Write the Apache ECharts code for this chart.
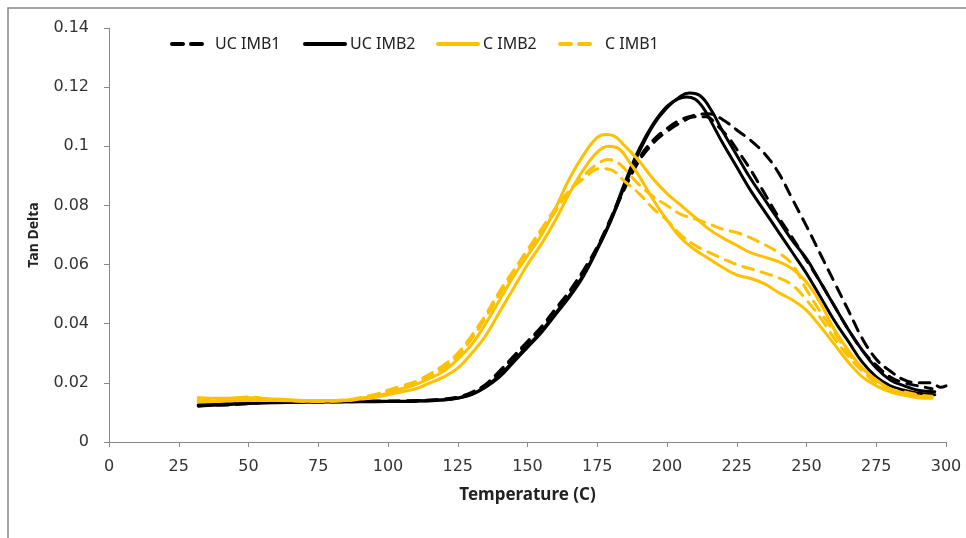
<!DOCTYPE html>
<html lang="en">
<head>
  <meta charset="UTF-8">
  <title>Tan Delta</title>
  <style>
    html, body { margin: 0; padding: 0; background: #fff; }
    #main { width: 966px; height: 538px; }
  </style>
</head>
<body>
<div id="main"></div>
<script src="https://cdn.jsdelivr.net/npm/echarts@6/dist/echarts.min.js"></script>
<script>
  // [temperature, tan delta]
  const ucImb1A = [[32,0.0125],[40,0.0125],[50,0.013],[60,0.0135],[75,0.0135],[90,0.0137],[100,0.0138],[110,0.014],[120,0.0145],[125,0.0152],[130,0.0168],[135,0.0195],[140,0.024],[145,0.029],[150,0.034],[155,0.039],[160,0.045],[165,0.051],[170,0.058],[175,0.066],[180,0.076],[185,0.087],[190,0.096],[195,0.102],[200,0.106],[205,0.109],[210,0.1105],[215,0.111],[220,0.109],[225,0.1055],[230,0.102],[235,0.0975],[240,0.091],[245,0.082],[250,0.073],[255,0.0635],[260,0.054],[265,0.0445],[270,0.035],[275,0.028],[280,0.024],[285,0.021],[290,0.020],[295,0.020],[298,0.0185],[300,0.019]];
  const ucImb1B = [[32,0.0122],[40,0.0128],[50,0.0132],[60,0.0134],[75,0.0136],[90,0.0138],[100,0.0138],[110,0.0139],[120,0.0144],[125,0.015],[130,0.0165],[135,0.019],[140,0.0235],[145,0.0285],[150,0.0335],[155,0.0385],[160,0.0445],[165,0.0505],[170,0.0575],[175,0.0655],[180,0.0755],[185,0.086],[190,0.095],[195,0.101],[200,0.105],[205,0.108],[210,0.110],[214,0.110],[218,0.107],[222,0.103],[225,0.099],[230,0.092],[235,0.084],[240,0.076],[245,0.069],[250,0.0615],[255,0.054],[260,0.046],[265,0.038],[270,0.031],[275,0.026],[280,0.022],[285,0.020],[290,0.019],[295,0.018]];
  const ucImb2A = [[32,0.0122],[40,0.0125],[50,0.013],[60,0.0133],[75,0.0135],[90,0.0136],[100,0.0137],[110,0.0138],[120,0.0142],[125,0.0148],[130,0.016],[135,0.0185],[140,0.022],[145,0.027],[150,0.032],[155,0.037],[160,0.043],[165,0.049],[170,0.056],[175,0.065],[180,0.075],[185,0.087],[190,0.098],[195,0.107],[200,0.113],[205,0.117],[208,0.118],[212,0.117],[216,0.112],[220,0.105],[225,0.097],[230,0.089],[235,0.082],[240,0.075],[245,0.068],[250,0.062],[255,0.054],[260,0.046],[265,0.038],[270,0.031],[275,0.025],[280,0.021],[285,0.019],[290,0.0175],[296,0.017]];
  const ucImb2B = [[32,0.0125],[40,0.0128],[50,0.0132],[60,0.0134],[75,0.0136],[90,0.0137],[100,0.0138],[110,0.0139],[120,0.0143],[125,0.0149],[130,0.0162],[135,0.0188],[140,0.0225],[145,0.0275],[150,0.0325],[155,0.0375],[160,0.0435],[165,0.0495],[170,0.0565],[175,0.0655],[180,0.0755],[185,0.088],[190,0.099],[195,0.1075],[200,0.1135],[204,0.116],[207,0.1167],[210,0.116],[213,0.113],[216,0.108],[220,0.101],[225,0.093],[230,0.085],[235,0.078],[240,0.071],[245,0.064],[250,0.057],[255,0.049],[260,0.041],[265,0.034],[270,0.027],[275,0.022],[280,0.019],[285,0.0175],[290,0.0165],[296,0.016]];
  const cImb2A = [[32,0.015],[40,0.0148],[50,0.015],[60,0.0145],[75,0.014],[85,0.0142],[90,0.0148],[95,0.0155],[100,0.0165],[105,0.018],[110,0.0195],[115,0.0215],[120,0.024],[125,0.028],[130,0.033],[135,0.040],[140,0.048],[145,0.056],[150,0.063],[155,0.070],[160,0.079],[165,0.089],[170,0.097],[175,0.103],[178,0.104],[181,0.1035],[185,0.100],[190,0.095],[195,0.089],[200,0.084],[205,0.080],[210,0.076],[215,0.072],[220,0.069],[225,0.0665],[230,0.064],[235,0.0625],[240,0.061],[245,0.0585],[250,0.054],[255,0.047],[260,0.038],[265,0.031],[270,0.025],[275,0.021],[280,0.018],[285,0.0165],[290,0.0155],[295,0.015]];
  const cImb2B = [[32,0.0135],[40,0.0138],[50,0.014],[60,0.014],[75,0.0138],[85,0.014],[90,0.0145],[95,0.015],[100,0.016],[105,0.017],[110,0.018],[115,0.020],[120,0.022],[125,0.025],[130,0.030],[135,0.036],[140,0.044],[145,0.052],[150,0.060],[155,0.067],[160,0.075],[165,0.084],[170,0.092],[175,0.098],[179,0.100],[183,0.099],[187,0.094],[190,0.090],[195,0.082],[200,0.075],[205,0.069],[210,0.065],[215,0.062],[220,0.059],[225,0.0565],[230,0.0553],[235,0.0535],[240,0.0505],[245,0.048],[250,0.0445],[255,0.039],[260,0.033],[265,0.027],[270,0.022],[275,0.019],[280,0.017],[285,0.0158],[290,0.015],[295,0.0148]];
  const cImb1A = [[32,0.0148],[40,0.0145],[50,0.0152],[60,0.0142],[75,0.0138],[85,0.0142],[90,0.015],[95,0.016],[100,0.0172],[105,0.0185],[110,0.020],[115,0.022],[120,0.025],[125,0.029],[130,0.035],[135,0.042],[140,0.050],[145,0.057],[150,0.064],[155,0.071],[160,0.078],[165,0.085],[170,0.090],[175,0.094],[179,0.0955],[183,0.094],[187,0.090],[190,0.087],[195,0.083],[200,0.080],[205,0.077],[210,0.0755],[216,0.0734],[220,0.072],[226,0.0705],[233,0.0677],[240,0.064],[245,0.060],[250,0.0515],[255,0.044],[260,0.037],[265,0.030],[270,0.025],[275,0.021],[280,0.018],[285,0.017],[290,0.016],[295,0.0155]];
  const cImb1B = [[32,0.014],[40,0.0142],[50,0.0145],[60,0.0143],[75,0.0137],[85,0.014],[90,0.0147],[95,0.0157],[100,0.0175],[105,0.019],[110,0.0205],[115,0.023],[120,0.026],[125,0.030],[130,0.036],[135,0.043],[140,0.051],[145,0.058],[150,0.065],[155,0.072],[160,0.079],[165,0.085],[170,0.089],[176,0.0925],[180,0.092],[185,0.088],[190,0.084],[195,0.079],[200,0.075],[205,0.070],[210,0.0665],[213,0.065],[220,0.062],[225,0.060],[232,0.058],[240,0.0555],[245,0.053],[250,0.048],[255,0.042],[260,0.035],[265,0.029],[270,0.024],[275,0.020],[280,0.018],[285,0.016],[290,0.0155],[295,0.015]];

  const legendNames = ['UC IMB1', 'UC IMB2', 'C IMB2', 'C IMB1'];
  const legendLeft = [170, 303, 436, 558];
  const legendIconW = [32, 40, 40, 32];
  const legendTextPad = [6, 0, 0, 8];

  const black = '#000000';
  const gold = '#FFC000';
  const font = 'DejaVu Sans';
  const legendFont = 'Noto Sans';

  function curve(name, data, color, dashed) {
    return {
      type: 'line',
      name: name,
      data: data,
      smooth: 0.4,
      symbol: 'none',
      lineStyle: { color: color, width: 3, type: dashed ? [11, 8] : 'solid', cap: 'round' },
      itemStyle: { color: color },
      emphasis: { disabled: true }
    };
  }

  let chart = echarts.init(document.getElementById('main'));
  let option = {
    animation: false,
    textStyle: { fontFamily: font },
    graphic: [{
      type: 'rect',
      shape: { x: 8, y: 8, width: 1200, height: 800 },
      style: { fill: 'none', stroke: '#868686', lineWidth: 1.5 },
      silent: true
    }],
    legend: legendNames.map((n, i) => ({
      data: [n],
      left: legendLeft[i],
      top: 36,
      padding: 0,
      itemWidth: legendIconW[i],
      itemHeight: 14,
      itemStyle: { opacity: 0 },
      lineStyle: { width: 4 },
      textStyle: { fontFamily: legendFont, fontSize: 16, color: '#222', padding: [0, 0, 0, legendTextPad[i]] }
    })),
    grid: { left: 109, right: 20, top: 28, bottom: 96 },
    xAxis: {
      type: 'value',
      min: 0, max: 300, interval: 25,
      name: 'Temperature (C)',
      nameLocation: 'middle',
      nameGap: 45,
      nameTextStyle: { fontFamily: legendFont, fontSize: 17, fontWeight: 'bold', color: '#222' },
      axisLine: { lineStyle: { color: '#888', width: 1 } },
      axisTick: { show: true, length: 5, lineStyle: { color: '#888' } },
      axisLabel: { fontFamily: font, fontSize: 16, color: '#333', margin: 17 },
      splitLine: { show: false }
    },
    yAxis: {
      type: 'value',
      min: 0, max: 0.14, interval: 0.02,
      name: 'Tan Delta',
      nameLocation: 'middle',
      nameGap: 68,
      nameTextStyle: { fontFamily: legendFont, fontSize: 14, fontWeight: 'bold', color: '#222' },
      axisLine: { show: true, lineStyle: { color: '#888', width: 1 } },
      axisTick: { show: true, length: 5, lineStyle: { color: '#888' } },
      axisLabel: { fontFamily: font, fontSize: 16, color: '#333', margin: 20 },
      splitLine: { show: false }
    },
    series: [
      curve('UC IMB1', ucImb1A, black, true),
      curve('UC IMB1', ucImb1B, black, true),
      curve('UC IMB2', ucImb2A, black, false),
      curve('UC IMB2', ucImb2B, black, false),
      curve('C IMB2', cImb2A, gold, false),
      curve('C IMB2', cImb2B, gold, false),
      curve('C IMB1', cImb1A, gold, true),
      curve('C IMB1', cImb1B, gold, true)
    ]
  };
  chart.setOption(option);
</script>
</body>
</html>
